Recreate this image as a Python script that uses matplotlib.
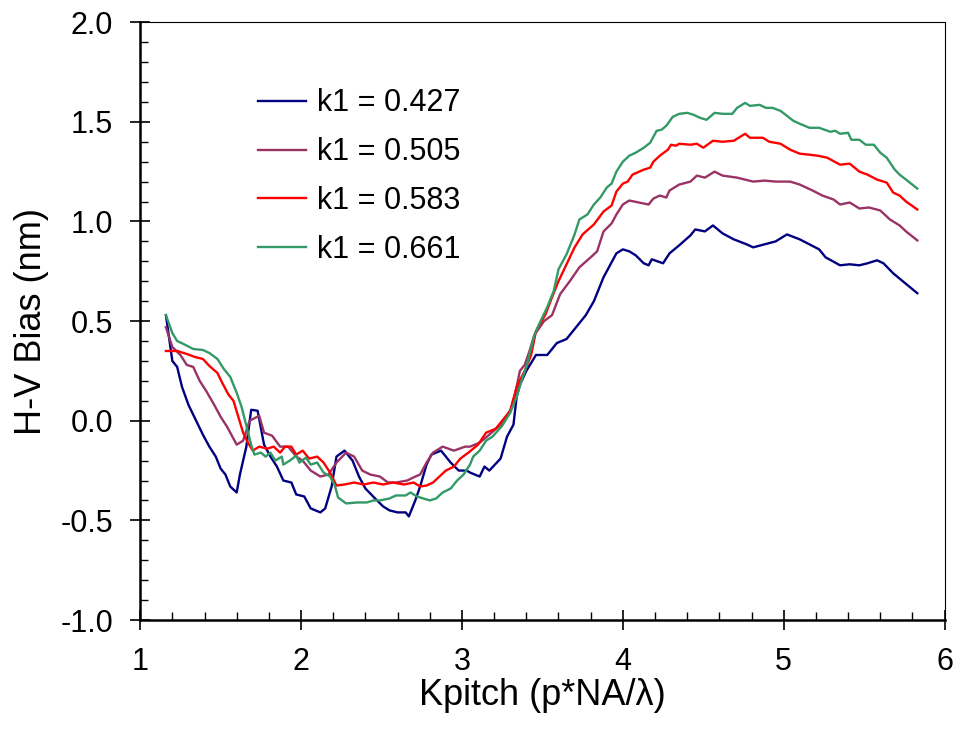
import numpy as np
import matplotlib
matplotlib.use("Agg")
import matplotlib.pyplot as plt
from matplotlib.ticker import MultipleLocator

plt.rcParams['font.family'] = ['Liberation Sans', 'DejaVu Sans']

# k1 = 0.427
x1 = [1.16, 1.20, 1.23, 1.26, 1.30, 1.33, 1.36, 1.39, 1.43, 1.47, 1.50, 1.53, 1.56, 1.60,
      1.62, 1.66, 1.69, 1.73, 1.77, 1.81, 1.85, 1.89, 1.94, 1.97, 2.02, 2.06, 2.12, 2.15,
      2.19, 2.22, 2.27, 2.32, 2.36, 2.40, 2.46, 2.51, 2.55, 2.60, 2.65, 2.67, 2.71, 2.74,
      2.78, 2.81, 2.87, 2.93, 2.98, 3.03, 3.05, 3.11, 3.14, 3.17, 3.24, 3.28, 3.32, 3.34,
      3.36, 3.40, 3.46, 3.53, 3.59, 3.65, 3.69, 3.77, 3.82, 3.88, 3.92, 3.96, 4.00, 4.04,
      4.08, 4.13, 4.16, 4.18, 4.25, 4.29, 4.35, 4.42, 4.45, 4.51, 4.56, 4.62, 4.69, 4.77,
      4.81, 4.88, 4.95, 5.02, 5.10, 5.16, 5.22, 5.26, 5.35, 5.41, 5.47, 5.52, 5.58, 5.62,
      5.68, 5.74, 5.83]
y1 = [0.53, 0.30, 0.27, 0.17, 0.08, 0.03, -0.02, -0.07, -0.13, -0.18, -0.24, -0.27, -0.33, -0.36,
      -0.27, -0.13, 0.055, 0.05, -0.12, -0.18, -0.23, -0.30, -0.31, -0.37, -0.38, -0.44, -0.46, -0.44,
      -0.33, -0.18, -0.15, -0.20, -0.28, -0.34, -0.39, -0.43, -0.45, -0.46, -0.46, -0.48, -0.40, -0.33,
      -0.22, -0.17, -0.15, -0.21, -0.25, -0.25, -0.26, -0.28, -0.23, -0.25, -0.19, -0.08, -0.02, 0.12,
      0.18, 0.25, 0.33, 0.33, 0.39, 0.41, 0.45, 0.53, 0.60, 0.72, 0.78, 0.84, 0.86, 0.85,
      0.83, 0.79, 0.78, 0.81, 0.79, 0.84, 0.88, 0.93, 0.96, 0.95, 0.98, 0.94, 0.91, 0.885,
      0.87, 0.885, 0.90, 0.935, 0.91, 0.885, 0.86, 0.82, 0.78, 0.785, 0.78, 0.79, 0.805, 0.79,
      0.74, 0.70, 0.64]

# k1 = 0.505
x2 = [1.16, 1.20, 1.25, 1.29, 1.33, 1.37, 1.41, 1.46, 1.50, 1.54, 1.57, 1.60, 1.64, 1.68,
      1.74, 1.77, 1.82, 1.87, 1.92, 1.97, 2.01, 2.06, 2.12, 2.17, 2.22, 2.28, 2.33, 2.38,
      2.43, 2.49, 2.54, 2.59, 2.66, 2.71, 2.74, 2.78, 2.82, 2.88, 2.95, 3.02, 3.05, 3.11,
      3.17, 3.24, 3.30, 3.33, 3.36, 3.39, 3.42, 3.45, 3.51, 3.56, 3.61, 3.67, 3.73, 3.80,
      3.84, 3.88, 3.93, 3.96, 4.00, 4.04, 4.10, 4.16, 4.19, 4.23, 4.27, 4.29, 4.35, 4.42,
      4.46, 4.51, 4.57, 4.62, 4.71, 4.81, 4.88, 4.95, 5.04, 5.10, 5.18, 5.24, 5.31, 5.35,
      5.41, 5.47, 5.53, 5.60, 5.66, 5.72, 5.76, 5.83]
y2 = [0.47, 0.37, 0.33, 0.28, 0.27, 0.20, 0.15, 0.08, 0.02, -0.03, -0.075, -0.12, -0.10, 0.00,
      0.025, -0.06, -0.075, -0.13, -0.13, -0.18, -0.20, -0.25, -0.28, -0.27, -0.21, -0.16, -0.18, -0.25,
      -0.27, -0.28, -0.31, -0.31, -0.30, -0.28, -0.27, -0.21, -0.16, -0.13, -0.15, -0.13, -0.13, -0.11,
      -0.07, -0.02, 0.05, 0.13, 0.25, 0.28, 0.35, 0.43, 0.50, 0.53, 0.635, 0.70, 0.77, 0.82,
      0.85, 0.95, 0.99, 1.035, 1.085, 1.105, 1.095, 1.085, 1.115, 1.13, 1.12, 1.155, 1.185, 1.20,
      1.23, 1.22, 1.25, 1.23, 1.22, 1.20, 1.205, 1.20, 1.20, 1.185, 1.155, 1.13, 1.11, 1.085,
      1.095, 1.065, 1.07, 1.055, 1.01, 0.98, 0.95, 0.905]

# k1 = 0.583
x3 = [1.16, 1.23, 1.29, 1.34, 1.39, 1.43, 1.48, 1.51, 1.55, 1.58, 1.61, 1.64, 1.67, 1.70,
      1.74, 1.79, 1.83, 1.87, 1.90, 1.94, 1.97, 2.01, 2.05, 2.10, 2.14, 2.18, 2.22, 2.27,
      2.33, 2.39, 2.45, 2.51, 2.57, 2.64, 2.70, 2.74, 2.78, 2.82, 2.86, 2.90, 2.95, 2.99,
      3.04, 3.10, 3.15, 3.21, 3.25, 3.30, 3.34, 3.39, 3.43, 3.46, 3.52, 3.56, 3.60, 3.65,
      3.70, 3.75, 3.82, 3.88, 3.93, 3.96, 4.00, 4.03, 4.06, 4.13, 4.17, 4.19, 4.23, 4.28,
      4.30, 4.33, 4.35, 4.42, 4.46, 4.50, 4.56, 4.62, 4.69, 4.76, 4.79, 4.87, 4.91, 4.98,
      5.04, 5.10, 5.16, 5.21, 5.27, 5.35, 5.41, 5.47, 5.52, 5.58, 5.64, 5.68, 5.72, 5.76,
      5.83]
y3 = [0.35, 0.35, 0.335, 0.32, 0.31, 0.275, 0.24, 0.19, 0.13, 0.10, 0.02, -0.06, -0.11, -0.15,
      -0.13, -0.14, -0.13, -0.16, -0.13, -0.13, -0.17, -0.15, -0.19, -0.18, -0.21, -0.26, -0.325, -0.32,
      -0.31, -0.32, -0.31, -0.32, -0.31, -0.32, -0.31, -0.33, -0.325, -0.31, -0.28, -0.25, -0.23, -0.19,
      -0.16, -0.12, -0.06, -0.04, 0.00, 0.05, 0.17, 0.25, 0.33, 0.45, 0.535, 0.62, 0.70, 0.785,
      0.87, 0.935, 0.985, 1.05, 1.08, 1.15, 1.19, 1.20, 1.235, 1.26, 1.27, 1.30, 1.33, 1.36,
      1.385, 1.38, 1.39, 1.385, 1.39, 1.37, 1.405, 1.40, 1.405, 1.44, 1.42, 1.42, 1.40, 1.39,
      1.36, 1.34, 1.335, 1.33, 1.32, 1.285, 1.29, 1.25, 1.235, 1.21, 1.195, 1.145, 1.13, 1.10,
      1.06]

# k1 = 0.661
x4 = [1.16, 1.20, 1.23, 1.27, 1.33, 1.39, 1.43, 1.48, 1.52, 1.56, 1.60, 1.63, 1.66, 1.69,
      1.71, 1.75, 1.78, 1.81, 1.84, 1.88, 1.89, 1.93, 1.97, 1.99, 2.03, 2.06, 2.10, 2.14,
      2.18, 2.21, 2.23, 2.28, 2.35, 2.41, 2.45, 2.49, 2.55, 2.59, 2.65, 2.68, 2.72, 2.76,
      2.80, 2.84, 2.88, 2.93, 2.97, 3.01, 3.05, 3.07, 3.11, 3.15, 3.19, 3.25, 3.30, 3.34,
      3.37, 3.40, 3.45, 3.48, 3.53, 3.57, 3.60, 3.65, 3.70, 3.73, 3.78, 3.82, 3.86, 3.90,
      3.93, 3.96, 4.00, 4.04, 4.08, 4.13, 4.17, 4.21, 4.24, 4.27, 4.31, 4.35, 4.40, 4.44,
      4.48, 4.52, 4.57, 4.62, 4.68, 4.71, 4.76, 4.79, 4.85, 4.89, 4.93, 4.98, 5.02, 5.06,
      5.10, 5.16, 5.22, 5.29, 5.32, 5.35, 5.40, 5.42, 5.47, 5.51, 5.56, 5.60, 5.64, 5.69,
      5.72, 5.76, 5.83]
y4 = [0.53, 0.44, 0.40, 0.385, 0.36, 0.355, 0.34, 0.31, 0.26, 0.22, 0.14, 0.07, -0.025, -0.12,
      -0.17, -0.16, -0.18, -0.16, -0.20, -0.18, -0.22, -0.20, -0.175, -0.21, -0.185, -0.22, -0.21, -0.26,
      -0.28, -0.325, -0.385, -0.415, -0.41, -0.41, -0.40, -0.40, -0.39, -0.375, -0.375, -0.36, -0.38, -0.39,
      -0.40, -0.39, -0.36, -0.34, -0.30, -0.27, -0.22, -0.18, -0.15, -0.10, -0.08, -0.025, 0.04, 0.12,
      0.20, 0.27, 0.43, 0.485, 0.57, 0.65, 0.76, 0.835, 0.935, 1.01, 1.035, 1.085, 1.12, 1.17,
      1.19, 1.25, 1.30, 1.33, 1.345, 1.37, 1.395, 1.455, 1.46, 1.48, 1.525, 1.54, 1.545, 1.535,
      1.52, 1.51, 1.545, 1.54, 1.54, 1.57, 1.595, 1.58, 1.585, 1.57, 1.57, 1.555, 1.53, 1.505,
      1.49, 1.47, 1.47, 1.45, 1.455, 1.44, 1.445, 1.41, 1.41, 1.385, 1.385, 1.345, 1.32, 1.26,
      1.235, 1.21, 1.165]

labels = ["k1 = 0.427", "k1 = 0.505", "k1 = 0.583", "k1 = 0.661"]
colors = ["#000080", "#993366", "#FF0000", "#339966"]

fig = plt.figure(figsize=(9.6, 7.39), dpi=100)
ax = fig.add_axes([0.146, 0.161, 0.838, 0.809])

for xs, ys, lab, c in zip([x1, x2, x3, x4], [y1, y2, y3, y4], labels, colors):
    ax.plot(xs, ys, color=c, lw=1.7, label=lab)

ax.set_xlim(1, 6)
ax.set_ylim(-1.0, 2.0)
ax.xaxis.set_major_locator(MultipleLocator(1))
ax.xaxis.set_minor_locator(MultipleLocator(0.2))
ax.yaxis.set_minor_locator(MultipleLocator(0.1))
yt = np.arange(-1.0, 2.01, 0.5)
ax.set_yticks(yt)
ax.set_yticklabels(["%.1f" % v for v in yt])

ax.tick_params(which="major", direction="inout", length=15, width=1.2, labelsize=22, pad=12)
ax.tick_params(which="minor", direction="in", length=6, width=1.0)
for s in ["left", "bottom"]:
    ax.spines[s].set_linewidth(1.8)
for s in ["top", "right"]:
    ax.spines[s].set_linewidth(0.8)

ax.set_xlabel("Kpitch (p*NA/\u03bb)", fontsize=26, labelpad=1)
ax.set_ylabel("H-V Bias (nm)", fontsize=26, labelpad=8)

ax.legend(loc="upper left", bbox_to_anchor=(0.127, 0.915), frameon=False, fontsize=22,
          handlelength=1.6, handletextpad=0.35, labelspacing=0.62, borderpad=0)

fig.savefig("out.png", dpi=100)
